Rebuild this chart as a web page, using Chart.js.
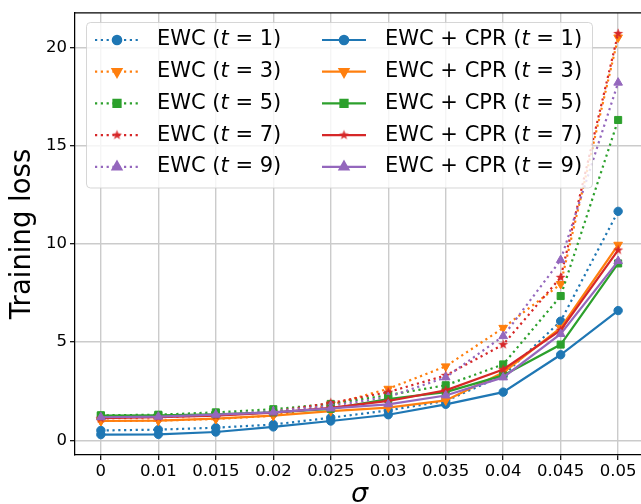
<!DOCTYPE html>
<html><head><meta charset="utf-8">
<script src="https://cdn.jsdelivr.net/npm/chart.js@4/dist/chart.umd.min.js"></script>
<style>html,body{margin:0;padding:0;overflow:hidden;background:#fff;width:641px;height:504px}canvas{position:absolute;left:0;top:0}</style>
</head><body><canvas id="c" width="650" height="504"></canvas>
<script>
// ---- data ----
const sigmaLabels = ['0', '0.01', '0.015', '0.02', '0.025', '0.03', '0.035', '0.04', '0.045', '0.05'];
const tValues = [1, 3, 5, 7, 9];
const methods = ['EWC', 'EWC + CPR'];
const ewcT1 = [0.50, 0.54, 0.64, 0.80, 1.15, 1.52, 2.00, 3.30, 6.06, 11.65];
const ewcT3 = [0.98, 1.00, 1.08, 1.25, 1.80, 2.62, 3.76, 5.72, 7.95, 20.50];
const ewcT5 = [1.27, 1.30, 1.42, 1.58, 1.85, 2.30, 2.80, 3.86, 7.34, 16.30];
const ewcT7 = [1.12, 1.17, 1.27, 1.45, 1.90, 2.45, 3.30, 4.87, 8.29, 20.70];
const ewcT9 = [1.17, 1.22, 1.32, 1.48, 1.75, 2.20, 3.20, 5.30, 9.17, 18.20];
const cprT1 = [0.29, 0.30, 0.42, 0.68, 0.98, 1.30, 1.83, 2.45, 4.35, 6.60];
const cprT3 = [0.98, 1.00, 1.10, 1.25, 1.48, 1.66, 2.03, 3.45, 5.72, 9.95];
const cprT5 = [1.25, 1.27, 1.32, 1.42, 1.60, 2.10, 2.45, 3.30, 4.87, 9.00];
const cprT7 = [1.12, 1.17, 1.25, 1.40, 1.65, 2.00, 2.54, 3.60, 5.60, 9.68];
const cprT9 = [1.17, 1.20, 1.30, 1.42, 1.62, 1.83, 2.28, 3.20, 5.41, 9.12];
const yTickValues = [0, 5, 10, 15, 20];

// ---- styles ----
const colors = ['#1f77b4', '#ff7f0e', '#2ca02c', '#d62728', '#9467bd'];
function makeStar(color, R) {
  const c = document.createElement('canvas');
  const s = Math.ceil(R * 2 + 2);
  c.width = c.height = s;
  const g = c.getContext('2d');
  g.fillStyle = color;
  g.beginPath();
  for (let i = 0; i < 10; i++) {
    const r = i % 2 ? R * 0.4 : R;
    const a = -Math.PI / 2 + i * Math.PI / 5;
    g.lineTo(s / 2 + r * Math.cos(a), s / 2 + r * Math.sin(a));
  }
  g.closePath(); g.fill();
  return c;
}
const markers = [
  { style: 'circle', rot: 0, r: 4.2 },
  { style: 'triangle', rot: 180, r: 5.0 },
  { style: 'rect', rot: 0, r: 5.0 },
  { style: makeStar(colors[3], 5.2), rot: 0, r: 5 },
  { style: 'triangle', rot: 0, r: 5.0 }
];

const ewcSeries = [ewcT1, ewcT3, ewcT5, ewcT7, ewcT9];
const cprSeries = [cprT1, cprT3, cprT5, cprT7, cprT9];

const datasets = [];
[ewcSeries, cprSeries].forEach((group, m) => {
  group.forEach((vals, k) => {
    datasets.push({
      label: methods[m] + ' (t = ' + tValues[k] + ')',
      method: methods[m], tVal: tValues[k],
      data: vals.map((v, i) => ({ x: i, y: v })),
      borderColor: colors[k], backgroundColor: colors[k],
      pointBackgroundColor: colors[k], pointBorderColor: colors[k],
      borderWidth: 2.2,
      borderDash: m === 0 ? [2.2, 3.6] : [],
      borderCapStyle: 'butt',
      pointStyle: markers[k].style, pointRotation: markers[k].rot,
      pointRadius: markers[k].r, pointBorderWidth: 1,
      tension: 0, fill: false,
      order: -(datasets.length)
    });
  });
});

const legendPlugin = {
  id: 'mplLegend',
  afterDraw(chart) {
    const ctx = chart.ctx;
    ctx.save();
    ctx.beginPath();
    ctx.roundRect(86.5, 22.5, 506, 165.5, 4);
    ctx.fillStyle = 'rgba(255,255,255,0.8)'; ctx.fill();
    ctx.strokeStyle = 'rgba(204,204,204,0.8)'; ctx.lineWidth = 1; ctx.stroke();
    const fs = 21;
    chart.data.datasets.forEach((ds, i) => {
      const col = Math.floor(i / 5), row = i % 5;
      const y = 40 + row * 31.7;
      const hx = col ? 322 : 95, hl = 44;
      ctx.strokeStyle = ds.borderColor; ctx.lineWidth = ds.borderWidth;
      ctx.lineCap = 'butt'; ctx.setLineDash(ds.borderDash);
      ctx.beginPath(); ctx.moveTo(hx, y); ctx.lineTo(hx + hl, y); ctx.stroke();
      ctx.setLineDash([]);
      ctx.fillStyle = ds.pointBackgroundColor; ctx.strokeStyle = ds.pointBorderColor;
      Chart.helpers.drawPoint(ctx, { pointStyle: ds.pointStyle, rotation: ds.pointRotation, radius: ds.pointRadius, borderWidth: 1 }, hx + hl / 2, y);
      let tx = col ? 385 : 157;
      ctx.fillStyle = '#000'; ctx.textBaseline = 'middle'; ctx.textAlign = 'left';
      const normal = fs + 'px "DejaVu Sans"', ital = 'italic ' + fs + 'px "DejaVu Sans"';
      const parts = [[ds.method + ' (', normal], ['t', ital], [' = ', normal], [ds.tVal + ')', normal]];
      parts.forEach(([s, f]) => { ctx.font = f; ctx.fillText(s, tx, y); tx += ctx.measureText(s).width; });
    });
    ctx.restore();
  }
};
const topSpine = {
  id: 'topSpine',
  afterDatasetsDraw(chart) {
    const { ctx, chartArea } = chart;
    ctx.save(); ctx.strokeStyle = '#000'; ctx.lineWidth = 1.25;
    ctx.beginPath(); ctx.moveTo(chartArea.left, chartArea.top); ctx.lineTo(chartArea.right, chartArea.top); ctx.stroke();
    ctx.restore();
  }
};

new Chart(document.getElementById('c'), {
  type: 'line',
  data: { datasets },
  plugins: [topSpine, legendPlugin],
  options: {
    responsive: false, animation: false, devicePixelRatio: 1,
    layout: { padding: { top: 11, right: 5, left: 0, bottom: 0 } },
    plugins: { legend: { display: false }, tooltip: { enabled: false } },
    scales: {
      x: {
        type: 'linear', min: -0.45, max: 9.45,
        afterBuildTicks: s => { s.ticks = sigmaLabels.map((_, i) => ({ value: i })); },
        afterFit: s => { s.height = 49; },
        ticks: { callback: v => sigmaLabels[v], color: '#000', font: { family: 'DejaVu Sans', size: 16.5 }, padding: 2, maxRotation: 0, autoSkip: false },
        grid: { color: '#cbcbcb', lineWidth: 1.4, tickColor: '#000', tickLength: 5, tickWidth: 1.2 },
        border: { color: '#000', width: 1.25 },
        title: { display: true, text: 'σ', color: '#000', font: { family: 'DejaVu Sans', size: 27, style: 'italic', lineHeight: 0.7 }, padding: 0 }
      },
      y: {
        type: 'linear', min: -0.75, max: 21.75,
        afterBuildTicks: s => { s.ticks = yTickValues.map(v => ({ value: v })); },
        afterFit: s => { s.width = 75; },
        ticks: { color: '#000', font: { family: 'DejaVu Sans', size: 16.5 }, padding: 3 },
        grid: { color: '#cbcbcb', lineWidth: 1.4, tickColor: '#000', tickLength: 5, tickWidth: 1.2 },
        border: { color: '#000', width: 1.25 },
        title: { display: true, text: 'Training loss', color: '#000', font: { family: 'DejaVu Sans', size: 27.5 }, padding: { top: 6.5, bottom: 0 } }
      }
    }
  }
});
</script></body></html>
